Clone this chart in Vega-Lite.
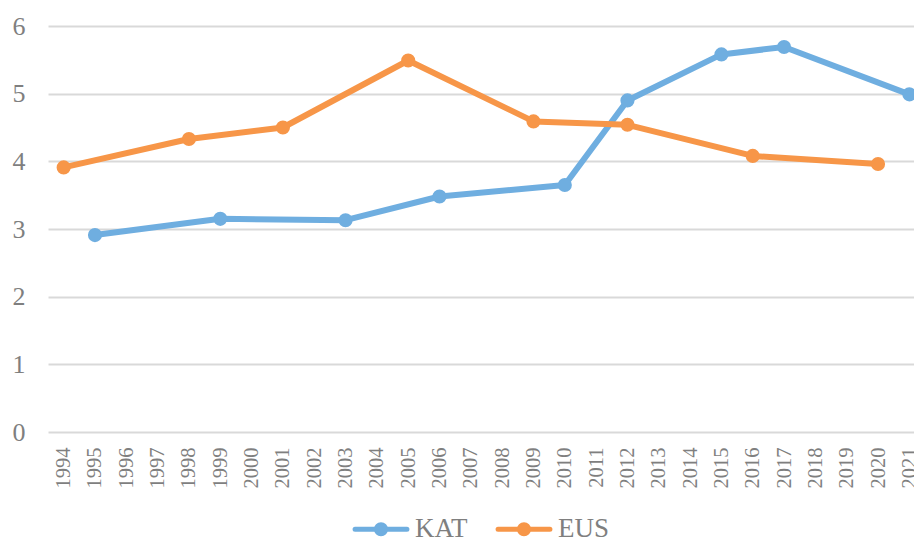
{
  "$schema": "https://vega.github.io/schema/vega-lite/v6.json",
  "autosize": "none",
  "width": 877,
  "height": 406,
  "padding": {"left": 48, "top": 26, "right": 0, "bottom": 110},
  "background": "white",
  "config": {
    "view": {"stroke": null},
    "font": "Liberation Serif, DejaVu Serif, serif",
    "axis": {"labelFont": "Liberation Serif, DejaVu Serif, serif", "labelColor": "#7f7f7f"},
    "legend": {"labelFont": "Liberation Serif, DejaVu Serif, serif"}
  },
  "data": {
    "values": [
      {"year": 1995, "series": "KAT", "value": 2.91},
      {"year": 1999, "series": "KAT", "value": 3.15},
      {"year": 2003, "series": "KAT", "value": 3.13},
      {"year": 2006, "series": "KAT", "value": 3.48},
      {"year": 2010, "series": "KAT", "value": 3.65},
      {"year": 2012, "series": "KAT", "value": 4.9},
      {"year": 2015, "series": "KAT", "value": 5.58},
      {"year": 2017, "series": "KAT", "value": 5.69},
      {"year": 2021, "series": "KAT", "value": 4.99},
      {"year": 1994, "series": "EUS", "value": 3.91},
      {"year": 1998, "series": "EUS", "value": 4.33},
      {"year": 2001, "series": "EUS", "value": 4.5},
      {"year": 2005, "series": "EUS", "value": 5.49},
      {"year": 2009, "series": "EUS", "value": 4.59},
      {"year": 2012, "series": "EUS", "value": 4.54},
      {"year": 2016, "series": "EUS", "value": 4.08},
      {"year": 2020, "series": "EUS", "value": 3.96}
    ]
  },
  "mark": {
    "type": "line",
    "strokeWidth": 6,
    "strokeJoin": "round",
    "strokeCap": "round",
    "point": {"filled": true, "size": 200, "opacity": 1}
  },
  "encoding": {
    "x": {
      "field": "year",
      "type": "ordinal",
      "scale": {
        "type": "point",
        "padding": 0.5,
        "domain": [1994,1995,1996,1997,1998,1999,2000,2001,2002,2003,2004,2005,2006,2007,2008,2009,2010,2011,2012,2013,2014,2015,2016,2017,2018,2019,2020,2021]
      },
      "axis": {
        "title": null,
        "domain": false,
        "ticks": false,
        "grid": false,
        "labelAngle": -90,
        "labelAlign": "right",
        "labelBaseline": "middle",
        "labelPadding": 15,
        "labelFontSize": 20.5,
        "labelOverlap": false
      }
    },
    "y": {
      "field": "value",
      "type": "quantitative",
      "scale": {"domain": [0, 6], "nice": false, "zero": true},
      "axis": {
        "title": null,
        "domain": false,
        "ticks": false,
        "values": [0,1,2,3,4,5,6],
        "grid": true,
        "gridColor": "#d9d9d9",
        "gridWidth": 1.8,
        "labelFontSize": 26,
        "labelPadding": 23
      }
    },
    "color": {
      "field": "series",
      "type": "nominal",
      "scale": {"domain": ["KAT", "EUS"], "range": ["#6faee0", "#f79648"]},
      "legend": {
        "title": null,
        "orient": "none",
        "direction": "horizontal",
        "legendX": 302,
        "legendY": 472,
        "padding": 0,
        "columnPadding": 20,
        "labelOffset": 3,
        "labelFontSize": 27,
        "labelColor": "#7f7f7f",
        "symbolType": "M-0.91,0L0.91,0M0.16,0A0.16,0.16,0,1,1,-0.16,0A0.16,0.16,0,1,1,0.16,0",
        "symbolSize": 3249,
        "symbolStrokeWidth": 5,
        "encode": {
          "symbols": {
            "update": {
              "fill": {"scale": "color", "field": "value"},
              "strokeWidth": {"value": 5},
              "strokeCap": {"value": "round"}
            }
          }
        }
      }
    }
  }
}
